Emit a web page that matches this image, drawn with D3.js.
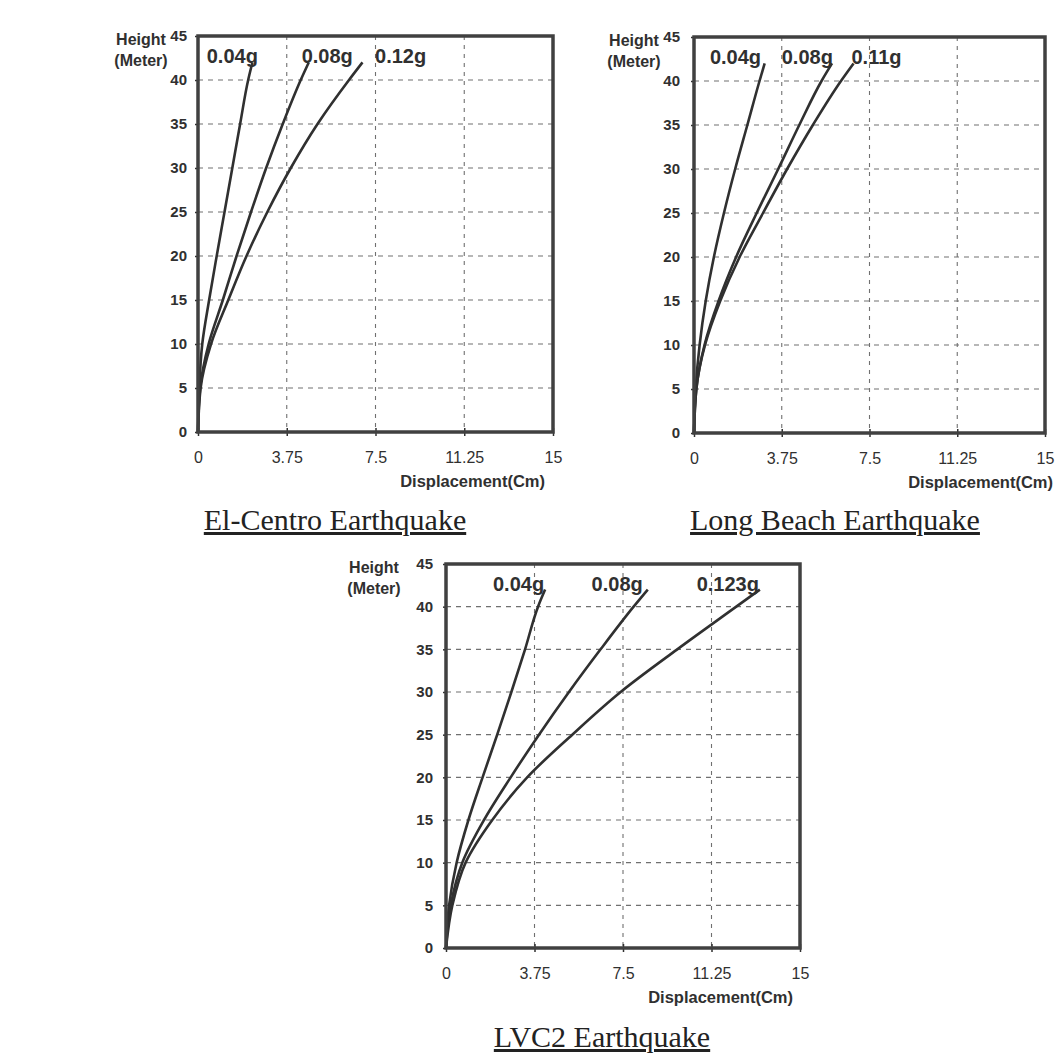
<!DOCTYPE html>
<html>
<head>
<meta charset="utf-8">
<script src="https://cdn.jsdelivr.net/npm/d3@7"></script>
<style>
  html, body { margin: 0; padding: 0; background: #fff; }
</style>
</head>
<body>
<div id="chart"></div>
<script>
  // axis ticks shared by all three panels
  var xTicks = [0, 3.75, 7.5, 11.25, 15];
  var yTicks = [0, 5, 10, 15, 20, 25, 30, 35, 40, 45];

  // storey heights (m) at which displacements were read
  var heights = [0, 5, 10, 15, 20, 25, 30, 35, 40, 42];

  // El-Centro displacements (cm)
  var elCentroNames = ['0.04g', '0.08g', '0.12g'];
  var elCentro004 = [0, 0.05, 0.18, 0.47, 0.79, 1.12, 1.45, 1.78, 2.12, 2.30];
  var elCentro008 = [0, 0.09, 0.45, 1.05, 1.63, 2.24, 2.88, 3.58, 4.34, 4.68];
  var elCentro012 = [0, 0.11, 0.55, 1.28, 2.05, 2.93, 3.92, 5.05, 6.38, 6.95];

  // Long Beach displacements (cm)
  var longBeachNames = ['0.04g', '0.08g', '0.11g'];
  var longBeach004 = [0, 0.07, 0.24, 0.50, 0.85, 1.28, 1.76, 2.28, 2.80, 3.02];
  var longBeach008 = [0, 0.10, 0.45, 1.05, 1.80, 2.68, 3.60, 4.50, 5.45, 5.90];
  var longBeach011 = [0, 0.10, 0.47, 1.12, 1.95, 2.95, 3.98, 5.08, 6.28, 6.82];

  // LVC2 displacements (cm)
  var lvc2Names = ['0.04g', '0.08g', '0.123g'];
  var lvc2004 = [0, 0.13, 0.45, 0.95, 1.55, 2.17, 2.77, 3.35, 3.90, 4.20];
  var lvc2008 = [0, 0.20, 0.69, 1.61, 2.74, 3.94, 5.21, 6.55, 7.95, 8.55];
  var lvc20123 = [0, 0.27, 0.83, 1.96, 3.44, 5.35, 7.40, 9.80, 12.30, 13.30];

  var ink = '#303030';
  var sans = '"Liberation Sans", Arial, sans-serif';
  var serif = '"Liberation Serif", "Times New Roman", serif';

  // layout of each panel on the page
  var panels = [
    { title: 'El-Centro Earthquake', names: elCentroNames,
      values: [elCentro004, elCentro008, elCentro012],
      frame: { x: 198, y: 36, w: 355, h: 396 },
      nameAt: [0.37, 4.38, 7.48], unitX: 141, tickGap: 11,
      titleX: 335, titleY: 530, xTitleDx: -8 },
    { title: 'Long Beach Earthquake', names: longBeachNames,
      values: [longBeach004, longBeach008, longBeach011],
      frame: { x: 694, y: 37, w: 351, h: 396 },
      nameAt: [0.68, 3.75, 6.73], unitX: 634, tickGap: 14,
      titleX: 835, titleY: 530, xTitleDx: 8 },
    { title: 'LVC2 Earthquake', names: lvc2Names,
      values: [lvc2004, lvc2008, lvc20123],
      frame: { x: 446, y: 564, w: 354, h: 384 },
      nameAt: [1.99, 6.17, 10.62], unitX: 374, tickGap: 13,
      titleX: 602, titleY: 1047, xTitleDx: -7 }
  ];

  var svg = d3.select('#chart').append('svg')
    .attr('width', 1057)
    .attr('height', 1055);

  function drawPanel(p) {
    var f = p.frame;
    var g = svg.append('g').attr('transform', 'translate(' + f.x + ',' + f.y + ')');
    var x = d3.scaleLinear().domain([0, 15]).range([0, f.w]);
    var y = d3.scaleLinear().domain([0, 45]).range([f.h, 0]);

    // dashed grid
    g.selectAll('line.vgrid').data(xTicks.slice(1, -1)).join('line')
      .attr('class', 'vgrid')
      .attr('x1', function(d) { return x(d); })
      .attr('x2', function(d) { return x(d); })
      .attr('y1', 0).attr('y2', f.h)
      .attr('stroke', '#707070').attr('stroke-width', 1.1)
      .attr('stroke-dasharray', '4,5');
    g.selectAll('line.hgrid').data(yTicks.slice(1, -1)).join('line')
      .attr('class', 'hgrid')
      .attr('y1', function(d) { return y(d); })
      .attr('y2', function(d) { return y(d); })
      .attr('x1', 0).attr('x2', f.w)
      .attr('stroke', '#707070').attr('stroke-width', 1.1)
      .attr('stroke-dasharray', '5,5');

    // x axis
    var ax = g.append('g')
      .attr('transform', 'translate(0,' + f.h + ')')
      .call(d3.axisBottom(x).tickValues(xTicks)
        .tickFormat(function(d) { return String(d); })
        .tickSizeInner(4).tickSizeOuter(0));
    ax.select('.domain').remove();
    ax.attr('font-family', sans).attr('font-size', 16);
    ax.selectAll('.tick line').attr('y1', -4).attr('stroke', ink).attr('stroke-width', 1.5);
    ax.selectAll('.tick text').attr('y', 31).attr('dy', null).attr('fill', ink);

    // y axis
    var ay = g.append('g')
      .call(d3.axisLeft(y).tickValues(yTicks)
        .tickSizeInner(3).tickSizeOuter(0).tickPadding(p.tickGap - 3));
    ay.select('.domain').remove();
    ay.attr('font-family', sans).attr('font-size', 15).attr('font-weight', 'bold');
    ay.selectAll('.tick line').attr('stroke', ink).attr('stroke-width', 1.5);
    ay.selectAll('.tick text').attr('fill', ink);

    // displacement profiles, fed top-down so y is monotonic
    var line = d3.line()
      .x(function(d) { return x(d[0]); })
      .y(function(d) { return y(d[1]); })
      .curve(d3.curveMonotoneY);
    p.values.forEach(function(vals) {
      var pts = vals.map(function(v, i) { return [v, heights[i]]; }).reverse();
      g.append('path')
        .datum(pts)
        .attr('d', line)
        .attr('fill', 'none')
        .attr('stroke', ink)
        .attr('stroke-width', 2.6)
        .attr('stroke-linejoin', 'round');
    });

    // frame
    g.append('rect')
      .attr('x', 0).attr('y', 0).attr('width', f.w).attr('height', f.h)
      .attr('fill', 'none').attr('stroke', '#404040').attr('stroke-width', 3.5);

    // series names
    g.selectAll('text.series').data(p.names).join('text')
      .attr('class', 'series')
      .attr('x', function(d, i) { return x(p.nameAt[i]); })
      .attr('y', 27)
      .attr('font-family', sans).attr('font-size', 20).attr('font-weight', 'bold')
      .attr('fill', ink)
      .text(function(d) { return d; });

    // axis titles
    g.append('text')
      .attr('x', p.unitX - f.x).attr('y', 9)
      .attr('text-anchor', 'middle')
      .attr('font-family', sans).attr('font-size', 16).attr('font-weight', 'bold')
      .attr('fill', ink).text('Height');
    g.append('text')
      .attr('x', p.unitX - f.x).attr('y', 30)
      .attr('text-anchor', 'middle')
      .attr('font-family', sans).attr('font-size', 16).attr('font-weight', 'bold')
      .attr('fill', ink).text('(Meter)');
    g.append('text')
      .attr('x', f.w + p.xTitleDx).attr('y', f.h + 55)
      .attr('text-anchor', 'end')
      .attr('font-family', sans).attr('font-size', 16.5).attr('font-weight', 'bold')
      .attr('fill', ink).text('Displacement(Cm)');

    // caption under the panel
    svg.append('text')
      .attr('x', p.titleX).attr('y', p.titleY)
      .attr('text-anchor', 'middle')
      .attr('font-family', serif).attr('font-size', 30)
      .attr('fill', '#222')
      .style('text-decoration', 'underline')
      .text(p.title);
  }

  panels.forEach(drawPanel);
</script>
</body>
</html>
